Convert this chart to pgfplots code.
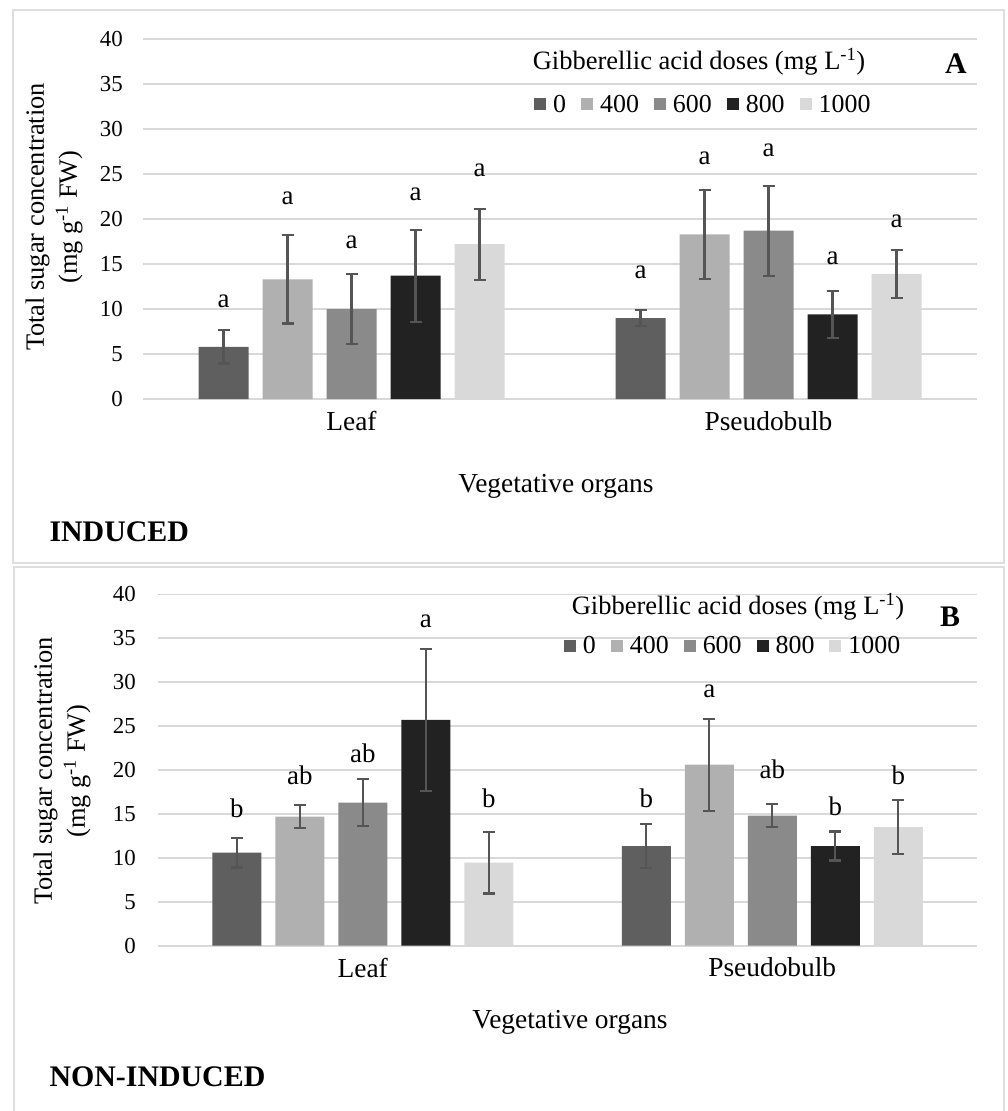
\documentclass[border=0pt]{standalone}
\usepackage{fontspec}
\setmainfont{Liberation Serif}
\usepackage{pgfplots}
\pgfplotsset{compat=1.18}
\usepackage{pgfplotstable}

\definecolor{c0}{HTML}{5F5F5F}
\definecolor{c400}{HTML}{B0B0B0}
\definecolor{c600}{HTML}{8A8A8A}
\definecolor{c800}{HTML}{222222}
\definecolor{c1000}{HTML}{D9D9D9}
\definecolor{errcol}{HTML}{555555}
\definecolor{gridcol}{HTML}{D9D9D9}
\definecolor{boxcol}{HTML}{DEDEDE}

\newcommand\tickfont{\fontsize{23}{27}\selectfont}
\newcommand\labfont{\fontsize{27.5}{32}\selectfont}
\newcommand\letfont{\fontsize{27}{32}\selectfont}
\newcommand\legfont{\fontsize{26}{30}\selectfont}
\newcommand\titfont{\fontsize{26.6}{31}\selectfont}
\newcommand\boldfont{\fontsize{30}{34}\selectfont\bfseries}

% Panel A (induced): x 0 = Leaf, 1 = Pseudobulb
\pgfplotstableread{
x d0   e0   d400 e400 d600 e600 d800 e800 d1000 e1000
0 5.8  1.85 13.3 4.9  10.0 3.9  13.7 5.1  17.2  3.95
1 9.0  0.9  18.3 4.95 18.7 5.0  9.4  2.6  13.9  2.65
}\tabA

% Panel B (non-induced)
\pgfplotstableread{
x d0    e0   d400 e400 d600 e600 d800  e800 d1000 e1000
0 10.6  1.7  14.7 1.3  16.3 2.7  25.7  8.1  9.45  3.5
1 11.35 2.5  20.6 5.25 14.8 1.3  11.35 1.65 13.5  3.05
}\tabB

\pgfplotsset{
  panel/.style={
    scale only axis, anchor=south west,
    xmin=-0.5, xmax=1.5, ymin=0, ymax=40,
    xtick={0,1}, xticklabels={Leaf,Pseudobulb},
    ytick={0,5,...,40},
    ymajorgrids, grid style={gridcol, line width=1.6bp},
    axis line style={draw=none},
    tick style={draw=none}, major tick length=0pt,
    /pgf/number format/assume math mode=true,
    yticklabel style={font=\tickfont, anchor=east, inner sep=0pt},
    xticklabel style={font=\labfont, anchor=north, inner sep=0pt},
    legend columns=5,
    legend style={draw=none, fill=none, inner sep=0pt, outer sep=0pt,
      font=\legfont, anchor=west,
      nodes={inner sep=0pt},
      /tikz/every odd column/.append style={column sep=7bp},
      /tikz/every even column/.append style={column sep=15bp}},
    clip=false,
  },
  sq/.style={draw=none, fill=#1,
    error bars/.cd, y dir=both, y explicit,
    error bar style={line width=2.2bp, draw=errcol},
    error mark options={rotate=90, line width=2.2bp, draw=errcol, mark size=6bp},
    /pgfplots/.cd,
    legend image code/.code={\fill[fill=#1] (0bp,-6bp) rectangle (12bp,6bp);}},
}

\newcommand\lett[4]{\node[font=\letfont, xshift=#1] at (axis cs:#2,#3) {#4};}

\begin{document}
\begin{tikzpicture}
\useasboundingbox (0,0) rectangle (1008bp,-1111bp);
\fill[white] (0,0) rectangle (1008bp,-1111bp);
\draw[boxcol, line width=2.5bp] (13bp,-10bp) rectangle (1004bp,-563bp);
\draw[boxcol, line width=2.5bp] (14bp,-1125bp) -- (14bp,-567bp) -- (1004bp,-567bp) -- (1004bp,-1125bp);

% ---------------- Panel A ----------------
\begin{axis}[panel, at={(143bp,-399bp)}, width=834bp, height=360bp,
  ybar=14bp, bar width=50bp,
  yticklabel style={xshift=-20bp},
  xticklabel style={yshift=-12bp},
  legend style={at={(0.469,0.819)}}]
\addplot[sq=c0]    table[x=x, y=d0,    y error=e0]    {\tabA};
\addplot[sq=c400]  table[x=x, y=d400,  y error=e400]  {\tabA};
\addplot[sq=c600]  table[x=x, y=d600,  y error=e600]  {\tabA};
\addplot[sq=c800]  table[x=x, y=d800,  y error=e800]  {\tabA};
\addplot[sq=c1000] table[x=x, y=d1000, y error=e1000] {\tabA};
\legend{0,400,600,800,1000}
\lett{-128bp}{0}{10.8}{a}
\lett{-64bp}{0}{22.3}{a}
\lett{0bp}{0}{17.4}{a}
\lett{64bp}{0}{22.7}{a}
\lett{128bp}{0}{25.4}{a}
\lett{-128bp}{1}{14.1}{a}
\lett{-64bp}{1}{26.7}{a}
\lett{0bp}{1}{27.6}{a}
\lett{64bp}{1}{15.6}{a}
\lett{128bp}{1}{19.7}{a}
\end{axis}

\node[rotate=90, align=center, font=\fontsize{26.5}{33}\selectfont] at (54bp,-217bp)
  {Total sugar concentration\\(mg g\textsuperscript{-1} FW)};
\node[font=\labfont] at (556bp,-486bp) {Vegetative organs};
\node[anchor=west, font=\boldfont] at (46bp,-532bp) {INDUCED};
\node[font=\titfont] at (699bp,-62bp) {Gibberellic acid doses (mg L\textsuperscript{-1})};
\node[font=\boldfont] at (956bp,-64bp) {A};

% ---------------- Panel B ----------------
\begin{axis}[panel, at={(158bp,-945.7bp)}, width=819bp, height=351.4bp,
  ybar=14bp, bar width=49bp,
  yticklabel style={xshift=-22bp},
  xticklabel style={yshift=-12bp},
  legend style={at={(0.4957,0.853)}}]
\addplot[sq=c0]    table[x=x, y=d0,    y error=e0]    {\tabB};
\addplot[sq=c400]  table[x=x, y=d400,  y error=e400]  {\tabB};
\addplot[sq=c600]  table[x=x, y=d600,  y error=e600]  {\tabB};
\addplot[sq=c800]  table[x=x, y=d800,  y error=e800]  {\tabB};
\addplot[sq=c1000] table[x=x, y=d1000, y error=e1000] {\tabB};
\legend{0,400,600,800,1000}
\lett{-126bp}{0}{15.6}{b}
\lett{-63bp}{0}{19.4}{ab}
\lett{0bp}{0}{21.9}{ab}
\lett{63bp}{0}{36.9}{a}
\lett{126bp}{0}{16.8}{b}
\lett{-126bp}{1}{16.8}{b}
\lett{-63bp}{1}{29.0}{a}
\lett{0bp}{1}{20.1}{ab}
\lett{63bp}{1}{15.9}{b}
\lett{126bp}{1}{19.4}{b}
\end{axis}

\node[rotate=90, align=center, font=\fontsize{26.5}{33}\selectfont] at (62bp,-771bp)
  {Total sugar concentration\\(mg g\textsuperscript{-1} FW)};
\node[font=\labfont] at (570bp,-1022bp) {Vegetative organs};
\node[anchor=west, font=\boldfont] at (46bp,-1077bp) {NON-INDUCED};
\node[font=\titfont] at (738bp,-607bp) {Gibberellic acid doses (mg L\textsuperscript{-1})};
\node[font=\boldfont] at (950bp,-617bp) {B};
\end{tikzpicture}
\end{document}
